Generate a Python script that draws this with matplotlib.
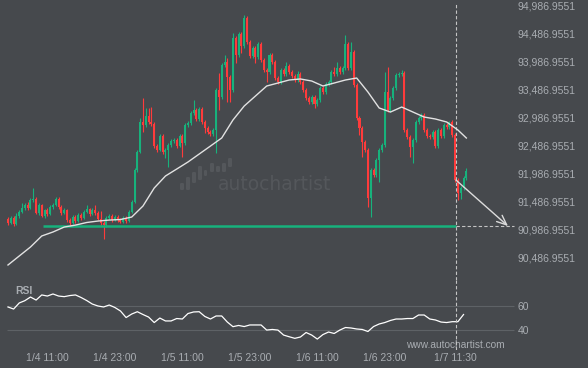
import numpy as np
import matplotlib.pyplot as plt
from matplotlib.patches import FancyBboxPatch

plt.rcParams['font.family'] = ['Liberation Sans', 'DejaVu Sans']

BG = '#46494d'
GREEN = '#17b27c'
RED = '#ff3b3b'
TXT = '#a9adb2'
WM = '#54575b'

# 30 minute candles, first one at 1/4 04:00
first_open = 91180
closes = [
    91109, 91198, 91091, 91233, 91304, 91376, 91428, 91376, 91517, 91535,
    91287, 91428, 91233, 91339, 91269, 91393, 91428, 91535, 91393, 91287,
    91339, 91161, 91109, 91215, 91144, 91250, 91198, 91304, 91358, 91269,
    91339, 91287, 91180, 91109, 91072, 91198, 91233, 91161, 91215, 91161,
    91126, 91198, 91144, 91304, 91482, 92051, 92372, 92906, 92852, 93012,
    92906, 92870, 92478, 92407, 92656, 92372, 92407, 92496, 92567, 92585,
    92478, 92656, 92532, 92852, 92888, 93066, 93119, 92959, 93137, 92906,
    92799, 92728, 92692, 92763, 93475, 93350, 93920, 93973, 93706, 93475,
    94400, 94098, 94471, 94258, 94756, 94329, 94080, 94222, 94062, 94293,
    94009, 93831, 93795, 94098, 93973, 93688, 93617, 93831, 93760, 93902,
    93795, 93724, 93653, 93760, 93617, 93475, 93333, 93261, 93350, 93226,
    93297, 93511, 93439, 93582, 93617, 93795, 93760, 93866, 93795, 93866,
    94293, 93866, 94151, 93564, 92977, 92799, 92550, 92407, 91553, 92051,
    91962, 92229, 92407, 92496, 93439, 93119, 93333, 93511, 93742, 93760,
    93777, 92763, 92639, 92461, 92585, 92906, 92977, 93030, 92763, 92656,
    92639, 92728, 92478, 92763, 92656, 92852, 92817, 92906, 92674, 91873,
    91642, 91731, 91909, 92034,
]
highs = [
    91215, 91233, 91233, 91287, 91339, 91464, 91464, 91482, 91553, 91731,
    91571, 91464, 91447, 91358, 91376, 91428, 91464, 91571, 91571, 91428,
    91376, 91358, 91198, 91250, 91250, 91287, 91287, 91339, 91428, 91376,
    91376, 91428, 91322, 91322, 91144, 91233, 91269, 91269, 91250, 91250,
    91198, 91233, 91233, 91339, 91517, 92087, 92407, 92977, 93333, 93155,
    93155, 93172, 92906, 92514, 92692, 92692, 92443, 92532, 92603, 92621,
    92621, 92692, 92692, 92888, 92923, 93101, 93297, 93155, 93172, 93172,
    92941, 92834, 92763, 92799, 93511, 93777, 93955, 94098, 94044, 93742,
    94489, 94435, 94507, 94507, 94809, 94791, 94364, 94258, 94258, 94329,
    94329, 94044, 93866, 94133, 94133, 94009, 93724, 93866, 93866, 93973,
    93937, 93831, 93760, 93813, 93795, 93653, 93511, 93368, 93386, 93386,
    93333, 93546, 93546, 93617, 93653, 93831, 93884, 93973, 93902, 93902,
    94453, 94329, 94329, 94186, 93599, 93012, 92834, 92585, 92443, 92087,
    92087, 92265, 92443, 92532, 93795, 93884, 93368, 93546, 93777, 93795,
    93831, 93813, 92799, 92674, 92621, 92941, 93012, 93066, 93066, 92799,
    92692, 92763, 92763, 92799, 92799, 92888, 92888, 92923, 92941, 92710,
    91909, 91767, 91945, 92087,
]
lows = [
    91072, 91091, 91055, 91072, 91198, 91287, 91339, 91339, 91358, 91482,
    91269, 91250, 91215, 91198, 91233, 91250, 91358, 91411, 91358, 91250,
    91269, 91126, 91055, 91091, 91109, 91126, 91161, 91180, 91287, 91233,
    91250, 91250, 91161, 91072, 90824, 91037, 91180, 91126, 91144, 91126,
    91109, 91109, 91109, 91126, 91287, 91464, 92016, 92354, 92728, 92817,
    92870, 92834, 92443, 92372, 92389, 92336, 92265, 92105, 92461, 92532,
    92443, 92461, 92283, 92496, 92817, 92852, 93030, 92923, 92923, 92870,
    92710, 92692, 92656, 92656, 92354, 93119, 93315, 93884, 93261, 93261,
    93439, 93955, 94062, 94133, 94222, 94293, 94044, 94044, 93955, 94026,
    93973, 93795, 93617, 93760, 93937, 93653, 93582, 93582, 93724, 93724,
    93760, 93688, 93617, 93617, 93582, 93439, 93297, 93226, 93226, 93155,
    93190, 93261, 93404, 93404, 93546, 93582, 93724, 93724, 93760, 93760,
    93831, 93831, 93831, 93528, 92941, 92674, 92283, 92372, 91393, 91215,
    91927, 91927, 91838, 92372, 92461, 93083, 93083, 93297, 93475, 93706,
    93724, 92728, 92603, 92283, 92176, 92550, 92870, 92941, 92728, 92621,
    92603, 92603, 92443, 92443, 92621, 92621, 92781, 92781, 92639, 91838,
    91517, 91535, 91695, 91873,
]

# moving average, every 4th candle
ema_idx = list(range(0, 161, 4)) + [163]
ema_vals = [
    90362, 90522, 90682, 90878, 90949, 91037, 91072, 91118, 91144, 91161,
    91171, 91215, 91411, 91731, 91945, 92069, 92194, 92336, 92478, 92621,
    92941, 93190, 93368, 93546, 93599, 93653, 93671, 93635, 93546, 93599,
    93653, 93688, 93439, 93155, 93083, 93172, 93083, 92994, 92959, 92906,
    92763, 92621,
]

# RSI, every 2nd candle
rsi_idx = list(range(0, 164, 2))
rsi_vals = [
    59.2, 57.5, 62.5, 64.4, 67.4, 64.9, 69.1, 68.2, 69.9, 68.2,
    67.7, 68.6, 69.1, 67.0, 64.5, 61.6, 60.0, 59.2, 60.8, 58.8,
    55.9, 50.5, 53.4, 55.3, 53.0, 50.9, 46.4, 50.1, 47.7, 47.7,
    49.7, 49.3, 53.8, 55.1, 55.3, 51.4, 49.3, 51.8, 51.8, 46.8,
    43.0, 44.0, 43.1, 44.4, 44.4, 44.4, 40.2, 40.7, 40.2, 36.1,
    34.7, 33.4, 34.5, 38.2, 36.1, 32.8, 36.5, 38.6, 37.4, 40.2,
    42.3, 41.9, 41.1, 40.7, 39.0, 43.1, 45.2, 46.4, 48.1, 49.3,
    49.3, 49.7, 49.7, 52.6, 52.6, 49.3, 48.5, 46.8, 46.4, 47.1,
    47.1, 53.0,
]

support = 91055
support_start = 12.4
pattern_end = 159.3     # 1/7 11:30 marker
target_idx = 177.8

time_idx = [14, 38, 62, 86, 110, 134, 159]
time_labels = ['1/4 11:00', '1/4 23:00', '1/5 11:00', '1/5 23:00',
               '1/6 11:00', '1/6 23:00', '1/7 11:30']
price_ticks = [90486.9551, 90986.9551, 91486.9551, 91986.9551, 92486.9551,
               92986.9551, 93486.9551, 93986.9551, 94486.9551, 94986.9551]
rsi_ticks = [40, 60]

opens = [first_open] + closes[:-1]
x = np.arange(len(closes))
o = np.array(opens)
c = np.array(closes)
colors = np.where(c >= o, GREEN, RED)
body_bottom = np.minimum(o, c)
body_h = np.maximum(np.abs(c - o), 15)

W, H = 588, 368
fig = plt.figure(figsize=(W / 100, H / 100), dpi=100, facecolor=BG)

# background layer in pixel coords: watermark, labels
deco = fig.add_axes([0, 0, 1, 1])
deco.set_xlim(0, W)
deco.set_ylim(H, 0)
deco.axis('off')
logo = [(180, 184, 183, 190), (186, 190, 177, 190), (192, 196, 172, 183),
        (198, 202, 166, 180), (204, 207, 170, 176), (210, 214, 163, 172),
        (216, 220, 166, 172), (222, 226, 163, 172), (228, 232, 158, 167)]
for x0, x1, y0, y1 in logo:
    deco.add_patch(FancyBboxPatch((x0, y0), x1 - x0, y1 - y0,
                                  boxstyle='round,pad=0,rounding_size=1.2',
                                  color=WM, lw=0))
deco.text(275, 185, 'autochartist', fontsize=13.5, color=WM, ha='center',
          va='center', family='DejaVu Sans')
deco.text(15, 291, 'RSI', fontsize=7.5, fontweight='bold', color=TXT, va='center')
deco.text(455, 345, 'www.autochartist.com', fontsize=7.3, color=TXT,
          ha='center', va='center')

xlim = (-2.84, 180.3)

# price panel
ax = fig.add_axes([0, 1 - 280 / H, 515 / W, 280 / H])
ax.patch.set_alpha(0)
ax.set_xlim(*xlim)
ax.set_ylim(90095, 95076)
ax.vlines(x, lows, highs, colors=colors, lw=0.8)
ax.bar(x, body_h, bottom=body_bottom, width=0.72, color=colors, lw=0)
ax.plot(ema_idx, ema_vals, color='#e2e2e2', lw=1.0, zorder=3)
ax.hlines(support, support_start, pattern_end, color=GREEN, lw=1.8, zorder=2)
ax.hlines(support, pattern_end, 180, color='#c4c4c4', lw=0.8,
          linestyles=(0, (3, 2)))
ax.axvline(pattern_end, ymax=1 - 4 / 280, color='#c4c4c4', lw=0.8,
           ls=(0, (3, 2)))
ax.annotate('', xy=(target_idx, support), xytext=(pattern_end, closes[159]),
            arrowprops=dict(arrowstyle='->,head_length=0.7,head_width=0.3',
                            color='#dcdcdc', lw=1, shrinkA=0, shrinkB=0))
ax.yaxis.tick_right()
ax.set_yticks(price_ticks)
ax.set_yticklabels([f'{p:,.4f}' for p in price_ticks])
ax.tick_params(axis='y', length=0, pad=2, labelsize=7.5, labelcolor=TXT)
ax.set_xticks([])
for s in ax.spines.values():
    s.set_visible(False)

# RSI panel
ax_r = fig.add_axes([0, 1 - 350 / H, 515 / W, 70 / H])
ax_r.patch.set_alpha(0)
ax_r.set_xlim(*xlim)
ax_r.set_ylim(23.8, 81.4)
ax_r.hlines(rsi_ticks, -0.3, 180, color='#5e6266', lw=0.8)
ax_r.plot(rsi_idx, rsi_vals, color='white', lw=0.9)
ax_r.axvline(pattern_end, color='#c4c4c4', lw=0.8, ls=(0, (3, 2)))
ax_r.yaxis.tick_right()
ax_r.set_yticks(rsi_ticks)
ax_r.set_xticks(time_idx)
ax_r.set_xticklabels(time_labels)
ax_r.tick_params(axis='both', length=0, labelsize=7.5, labelcolor=TXT)
ax_r.tick_params(axis='y', pad=2)
ax_r.tick_params(axis='x', pad=2.5)
for s in ax_r.spines.values():
    s.set_visible(False)

fig.savefig('out.png', dpi=100, facecolor=BG)
